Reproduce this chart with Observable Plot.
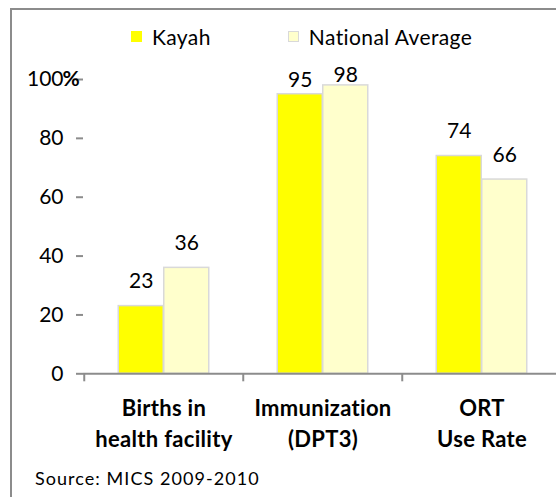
<!DOCTYPE html>
<html>
<head>
<meta charset="utf-8">
<script src="https://cdn.jsdelivr.net/npm/d3@7"></script>
<script src="https://cdn.jsdelivr.net/npm/@observablehq/plot@0.6"></script>
<style>
  html, body { margin: 0; padding: 0; background: #fff; overflow: hidden; }
  #page { position: relative; width: 556px; height: 497px; overflow: hidden; font-family: Lato, sans-serif; }
  #frame { position: absolute; left: 10px; top: 8px; width: 600px; height: 600px; border: 2px solid #8c8c8c; box-sizing: border-box; }
  #chart { position: absolute; left: 0; top: 0; }
  #legend { position: absolute; left: 131px; top: 24px; display: flex; align-items: center; font-size: 21px; color: #000; letter-spacing: 0.4px; }
  #legend .item { display: flex; align-items: center; margin-right: 77px; }
  #legend .sw { width: 11px; height: 11px; margin-right: 10px; box-sizing: border-box; }
  #caption { position: absolute; left: 35px; top: 467px; font-size: 18px; color: #000; letter-spacing: 1.05px; }
  #chart svg .xlab text { letter-spacing: 0.3px; }
</style>
</head>
<body>
<div id="page">
  <div id="frame"></div>
  <div id="chart"></div>
  <div id="legend"></div>
  <div id="caption"></div>
</div>
<script>
const categories = ["Births in\nhealth facility", "Immunization\n(DPT3)", "ORT\nUse Rate"];
const series = ["Kayah", "National Average"];
const kayah = [23, 95, 74];
const national = [36, 98, 66];
const colors = ["#FFFF00", "#FFFFCC"];
const swatchStroke = ["#FFFF00", "#d9d9d9"];
const yTicks = [0, 20, 40, 60, 80, 100];
const yUnit = "%";
const source = "Source: MICS 2009-2010";

const data = categories.flatMap((c, i) => [
  {category: c, series: series[0], value: kayah[i]},
  {category: c, series: series[1], value: national[i]}
]);

const axisGray = "#8c8c8c";
const barStroke = "#d9d9d9";
const half = 79.75;      // half band width (px)
const barW = 45.5;       // bar width (px)
const labelY = d => Math.min(d.value + 6.1, (d.value + 100) / 2);

const s0 = data.filter(d => d.series === series[0]);
const s1 = data.filter(d => d.series === series[1]);

const chart = Plot.plot({
  width: 556,
  height: 497,
  marginTop: 79,
  marginBottom: 123.7,
  marginLeft: 83,
  marginRight: 0,
  x: {domain: categories, range: [83, 561.5], padding: 0},
  y: {domain: [0, 100]},
  color: {domain: series, range: colors},
  style: {fontFamily: "Lato", fontSize: "21px", background: "transparent", color: "black", overflow: "visible"},
  marks: [
    Plot.barY(s0, {x: "category", y: "value", fill: "series", stroke: barStroke, strokeWidth: 1.5,
      insetLeft: half - barW, insetRight: half}),
    Plot.barY(s1, {x: "category", y: "value", fill: "series", stroke: barStroke, strokeWidth: 1.5,
      insetLeft: half, insetRight: half - barW}),
    Plot.text(s0, {x: "category", y: labelY, text: d => String(d.value), dx: -barW / 2, lineAnchor: "bottom", fill: "black", fontSize: 21}),
    Plot.text(s1, {x: "category", y: labelY, text: d => String(d.value), dx: barW / 2, lineAnchor: "bottom", fill: "black", fontSize: 21}),
    Plot.ruleY([0], {stroke: axisGray, strokeWidth: 2}),
    Plot.ruleX(categories, {x: d => d, dx: -half, y1: 0, y2: 0, insetBottom: -8, stroke: axisGray, strokeWidth: 2}),
    Plot.axisY(yTicks, {tickSize: 7, tickPadding: 13, stroke: axisGray, strokeWidth: 2, line: true, label: null, fill: "black", fontSize: 21}),
    Plot.text([yUnit], {frameAnchor: "top-left", text: d => d, dx: -21, textAnchor: "start", lineAnchor: "middle", fontWeight: "bold", fill: "black", fontSize: 21}),
    Plot.axisX({tickSize: 0, tickPadding: 20, fontSize: 22, fontWeight: "bold", lineHeight: 1.41, label: null, fill: "black", className: "xlab"})
  ]
});
document.getElementById("chart").appendChild(chart);

const legend = document.getElementById("legend");
series.forEach((name, i) => {
  const item = document.createElement("div");
  item.className = "item";
  const sw = document.createElement("div");
  sw.className = "sw";
  sw.style.background = colors[i];
  sw.style.border = "1px solid " + swatchStroke[i];
  const label = document.createElement("span");
  label.textContent = name;
  item.appendChild(sw);
  item.appendChild(label);
  legend.appendChild(item);
});
document.getElementById("caption").textContent = source;
</script>
</body>
</html>
